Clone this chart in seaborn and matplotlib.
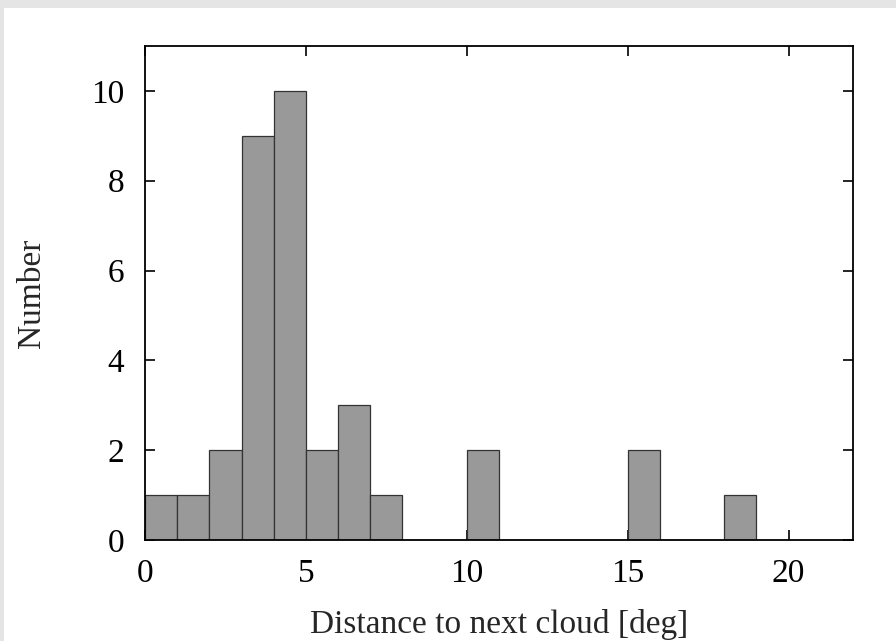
import matplotlib
matplotlib.use("Agg")
import matplotlib.pyplot as plt
import seaborn as sns
import numpy as np
import pandas as pd
from matplotlib.patches import Rectangle

bin_left = [0, 1, 2, 3, 4, 5, 6, 7, 10, 15, 18]
counts = [1, 1, 2, 9, 10, 2, 3, 1, 2, 2, 1]
x_ticks = [0, 5, 10, 15, 20]
y_ticks = [0, 2, 4, 6, 8, 10]

sns.set_theme(style="ticks")
plt.rcParams['font.family'] = ['Liberation Serif', 'DejaVu Serif']
plt.rcParams['mathtext.fontset'] = 'stix'

fig = plt.figure(figsize=(8.96, 6.41), dpi=100, facecolor='white')
# light gray frame strips (top and left)
fig.patches.append(Rectangle((0, 1 - 8/641), 1, 8/641, transform=fig.transFigure,
                             facecolor='#e5e5e5', edgecolor='none', zorder=0))
fig.patches.append(Rectangle((0, 0), 4/896, 1, transform=fig.transFigure,
                             facecolor='#e5e5e5', edgecolor='none', zorder=0))

ax = fig.add_axes([145/896, 1 - 540/641, (853 - 145)/896, (540 - 46)/641])

df = pd.DataFrame({"x": [b + 0.5 for b in bin_left], "w": counts})
sns.histplot(data=df, x="x", weights="w", binwidth=1, binrange=(0, 19), ax=ax,
             color='#999999', alpha=1.0, edgecolor='#333333', linewidth=0.9)

ax.set_xlim(0, 22)
ax.set_ylim(0, 11)
ax.set_xticks(x_ticks)
ax.set_yticks(y_ticks)
ax.tick_params(direction='in', length=7, width=1.2, top=True, right=True,
               labelsize=24, colors='black')
ax.tick_params(axis='x', pad=13)
ax.tick_params(axis='y', pad=15)
for s in ax.spines.values():
    s.set_linewidth(1.3)
    s.set_color('black')
ax.set_xlabel("Distance to next cloud [deg]", fontsize=24)
ax.set_ylabel("Number", fontsize=24)
ax.xaxis.set_label_coords(0.5, -0.139)
ax.yaxis.set_label_coords(-0.138, 0.5)

fig.savefig("out.png", dpi=100, facecolor=fig.get_facecolor())
